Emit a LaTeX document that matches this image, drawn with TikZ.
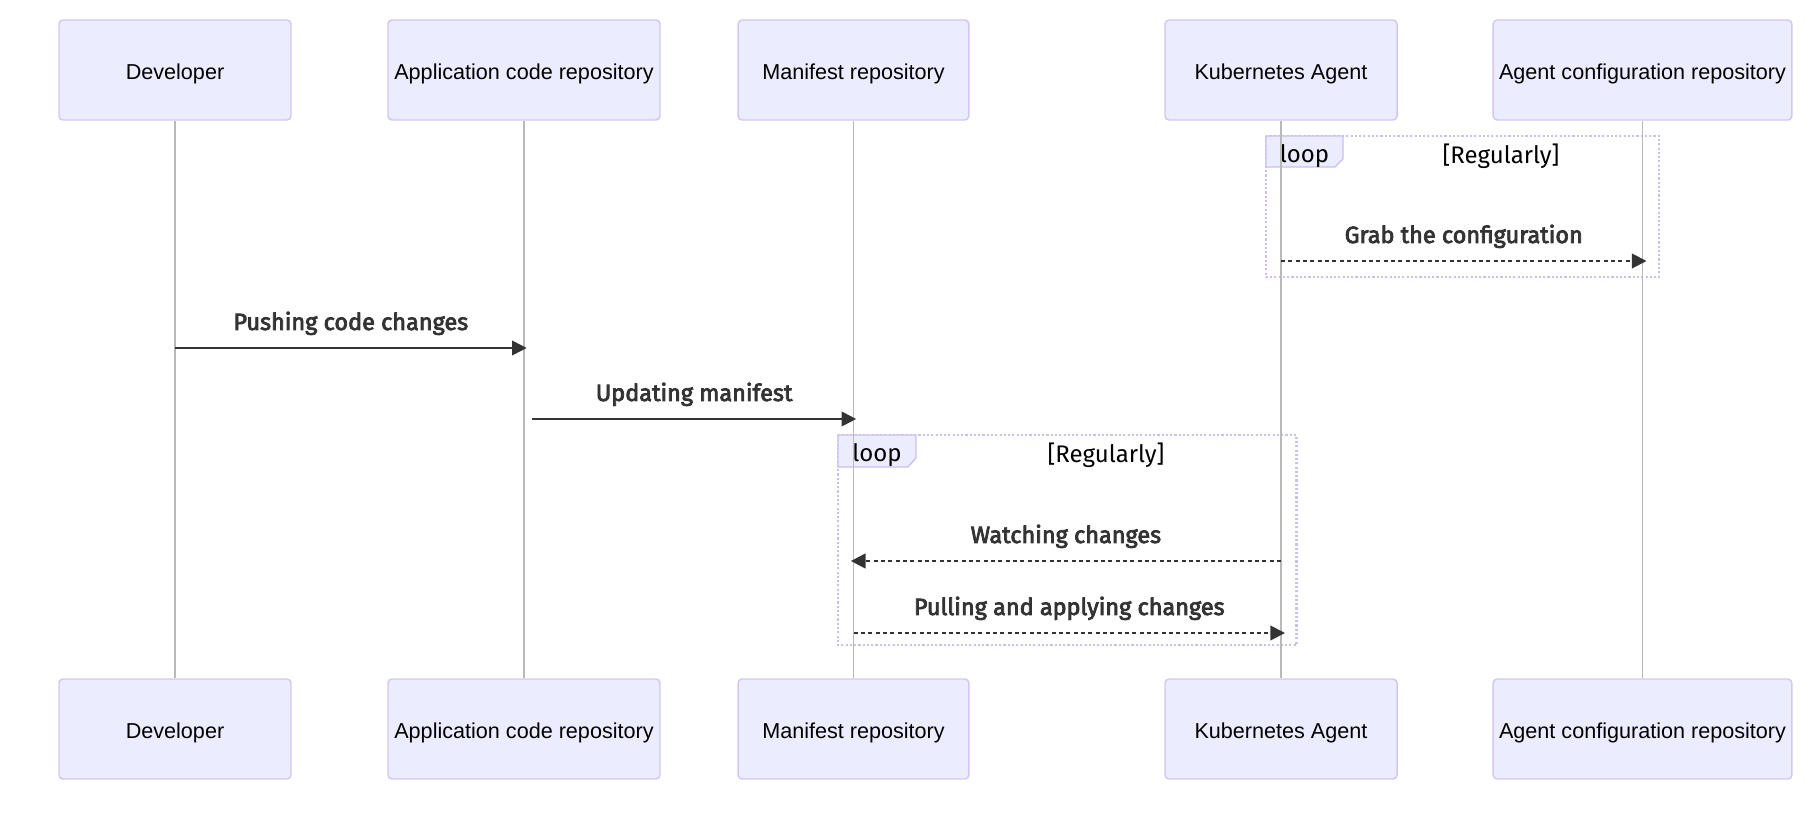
\documentclass[tikz,border=0pt]{standalone}
\usepackage{fontspec}
\setmainfont{Liberation Sans}
\newfontfamily\msgfont[FakeBold=3.2]{Fira Sans}
\newfontfamily\loopfont{Fira Sans}
\usetikzlibrary{arrows.meta}
\definecolor{actorfill}{RGB}{236,236,255}
\definecolor{actorline}{RGB}{212,198,242}
\definecolor{loopline}{RGB}{204,190,240}
\definecolor{signal}{RGB}{51,51,51}
\definecolor{lifeline}{RGB}{185,185,185}
\tikzset{
  actor/.style={draw=actorline, line width=1.1pt, fill=actorfill, rounded corners=3pt,
    minimum height=75pt, inner sep=0pt, text height=14pt, text depth=0pt,
    font=\fontsize{16.2}{19}\selectfont},
  life/.style={draw=lifeline, line width=1pt},
  msg/.style={draw=signal, line width=1.5pt, -{Triangle[length=11pt,width=11pt]}},
  reply/.style={msg, dash pattern=on 3pt off 2.5pt},
  msgtext/.style={text=signal, font=\msgfont\fontsize{17.6}{20}\selectfont, yshift=18.5pt},
  loopbox/.style={draw=loopline, line width=2pt, dash pattern=on 1.6pt off 1.6pt},
  looptab/.style={draw=loopline, line width=1pt, fill=actorfill},
  looptext/.style={font=\loopfont\fontsize{18}{21}\selectfont}
}
\begin{document}
\begin{tikzpicture}[x=0.75pt,y=-0.75pt]
\useasboundingbox (0,0) rectangle (1820,814);

\node[actor, minimum width=174pt] (dev) at (175,70) {Developer};
\node[actor, minimum width=204pt] (app) at (524,70) {Application code repository};
\node[actor, minimum width=173pt] (man) at (853.5,70) {Manifest repository};
\node[actor, minimum width=174pt] (agent) at (1281,70) {Kubernetes Agent};
\node[actor, minimum width=224pt] (conf) at (1642.5,70) {Agent configuration repository};

\node[actor, minimum width=174pt] (devB) at (175,729) {Developer};
\node[actor, minimum width=204pt] (appB) at (524,729) {Application code repository};
\node[actor, minimum width=173pt] (manB) at (853.5,729) {Manifest repository};
\node[actor, minimum width=174pt] (agentB) at (1281,729) {Kubernetes Agent};
\node[actor, minimum width=224pt] (confB) at (1642.5,729) {Agent configuration repository};

\draw[loopbox] (1266,136) rectangle (1659,277);
\draw[looptab] (1266,136) -- (1343,136) -- (1343,159) -- (1335,167) -- (1266,167) -- cycle;
\node[looptext] (tab1) at (1304.5,156) {loop};
\node[looptext] (cond1) at (1501,156) {[Regularly]};

\draw[loopbox] (838,435) rectangle (1296.5,645);
\draw[looptab] (838,435) -- (916,435) -- (916,458) -- (908,467) -- (838,467) -- cycle;
\node[looptext] (tab2) at (877,455) {loop};
\node[looptext] (cond2) at (1106,455) {[Regularly]};

\draw[life] (dev) -- (devB);
\draw[life] (app) -- (appB);
\draw[life] (man) -- (manB);
\draw[life] (agent) -- (agentB);
\draw[life] (conf) -- (confB);

\coordinate (y0) at (0,261);
\coordinate (y1) at (0,348);
\coordinate (y2) at (0,419);
\coordinate (y3) at (0,561);
\coordinate (y4) at (0,633);

\draw[reply] (agent |- y0) -- ([xshift=3pt]conf |- y0) node[msgtext, midway] {Grab the configuration};
\draw[msg] (dev |- y1) -- ([xshift=2pt]app |- y1) node[msgtext, midway] {Pushing code changes};
\draw[msg] ([xshift=6pt]app |- y2) -- ([xshift=2pt]man |- y2) node[msgtext, midway] {Updating manifest};
\draw[reply] (agent |- y3) -- ([xshift=-2pt]man |- y3) node[msgtext, midway] {Watching changes};
\draw[reply] (man |- y4) -- ([xshift=3pt]agent |- y4) node[msgtext, midway] {Pulling and applying changes};
\end{tikzpicture}
\end{document}
